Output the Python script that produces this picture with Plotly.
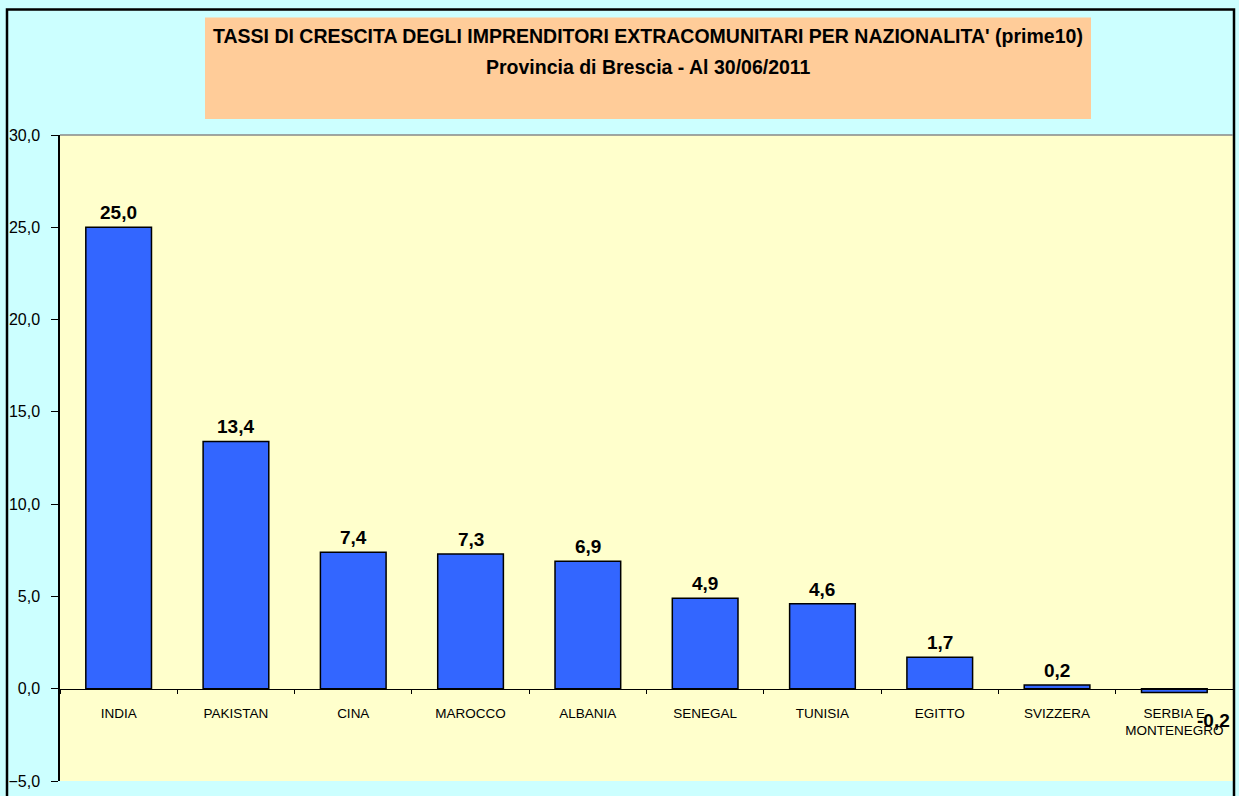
import plotly.graph_objects as go

# dati
paesi = ["INDIA", "PAKISTAN", "CINA", "MAROCCO", "ALBANIA", "SENEGAL",
         "TUNISIA", "EGITTO", "SVIZZERA", "SERBIA E<br>MONTENEGRO"]
tassi = [25.0, 13.4, 7.4, 7.3, 6.9, 4.9, 4.6, 1.7, 0.2, -0.2]

titolo1 = "TASSI DI CRESCITA DEGLI IMPRENDITORI EXTRACOMUNITARI PER NAZIONALITA' (prime10)"
titolo2 = "Provincia di Brescia - Al 30/06/2011"

W, H = 1239, 796
L, R, T, B = 60, 6, 135, 12
pw = W - L - R
ph = H - T - B

def px_x(x):
    return (x - L) / pw

def px_y(y):
    return (H - B - y) / ph

fig = go.Figure()
fig.add_trace(go.Bar(
    x=paesi, y=tassi,
    marker=dict(color="#3366FF", line=dict(color="black", width=1.5)),
    width=0.56,
))

# etichette dei valori
font_val = dict(family="Liberation Sans", size=19, color="black", weight="bold")
for p, v in zip(paesi, tassi):
    txt = f"{v:.1f}".replace(".", ",")
    if v >= 0:
        fig.add_annotation(x=p, y=v, text=txt, showarrow=False, yanchor="bottom",
                           yshift=2, font=font_val)
    else:
        fig.add_annotation(x=p, y=v, text=txt, showarrow=False, yanchor="middle",
                           xshift=39, yshift=-28, font=font_val)

# riquadro del titolo
fig.add_shape(type="rect", xref="paper", yref="paper",
              x0=px_x(205), x1=px_x(1091), y0=px_y(119), y1=px_y(17),
              fillcolor="#FFCC99", line=dict(width=0), layer="below")
font_tit = dict(family="Liberation Sans", size=19.5, color="black", weight="bold")
fig.add_annotation(xref="paper", yref="paper", x=px_x(648), y=px_y(36), text=titolo1,
                   xanchor="center", yanchor="middle", showarrow=False, font=font_tit)
fig.add_annotation(xref="paper", yref="paper", x=px_x(648), y=px_y(67), text=titolo2,
                   xanchor="center", yanchor="middle", showarrow=False, font=font_tit)

# bordo esterno e linea superiore del grafico
fig.add_shape(type="rect", xref="paper", yref="paper",
              x0=px_x(7), x1=px_x(1234), y0=px_y(820), y1=px_y(9),
              line=dict(color="black", width=2.5))
fig.add_shape(type="line", xref="paper", yref="paper", x0=0, x1=1, y0=1, y1=1,
              line=dict(color="#888888", width=1.5))

fig.update_layout(
    width=W, height=H,
    margin=dict(l=L, r=R, t=T, b=B),
    paper_bgcolor="#CCFFFF",
    plot_bgcolor="#FFFFCC",
    separators=",.",
    showlegend=False,
    bargap=0.44,
    font=dict(family="Liberation Sans", color="black"),
    xaxis=dict(
        anchor="free", position=5 / 35,
        showline=True, linecolor="black", linewidth=1,
        ticks="outside", ticklen=4, tickcolor="black", tickson="boundaries",
        ticklabelstandoff=12,
        tickfont=dict(size=13.5, family="Liberation Sans"),
        showgrid=False, zeroline=False,
    ),
    yaxis=dict(
        range=[-5, 30], dtick=5, tickformat=".1f",
        showline=True, linecolor="black", linewidth=1.5,
        ticks="outside", ticklen=7, tickcolor="black",
        ticklabelstandoff=8,
        tickfont=dict(size=16, family="Liberation Sans"),
        showgrid=False, zeroline=False,
    ),
)

fig.write_html("out.html", config={"displayModeBar": False},
               post_script="document.body.style.margin='0';")
